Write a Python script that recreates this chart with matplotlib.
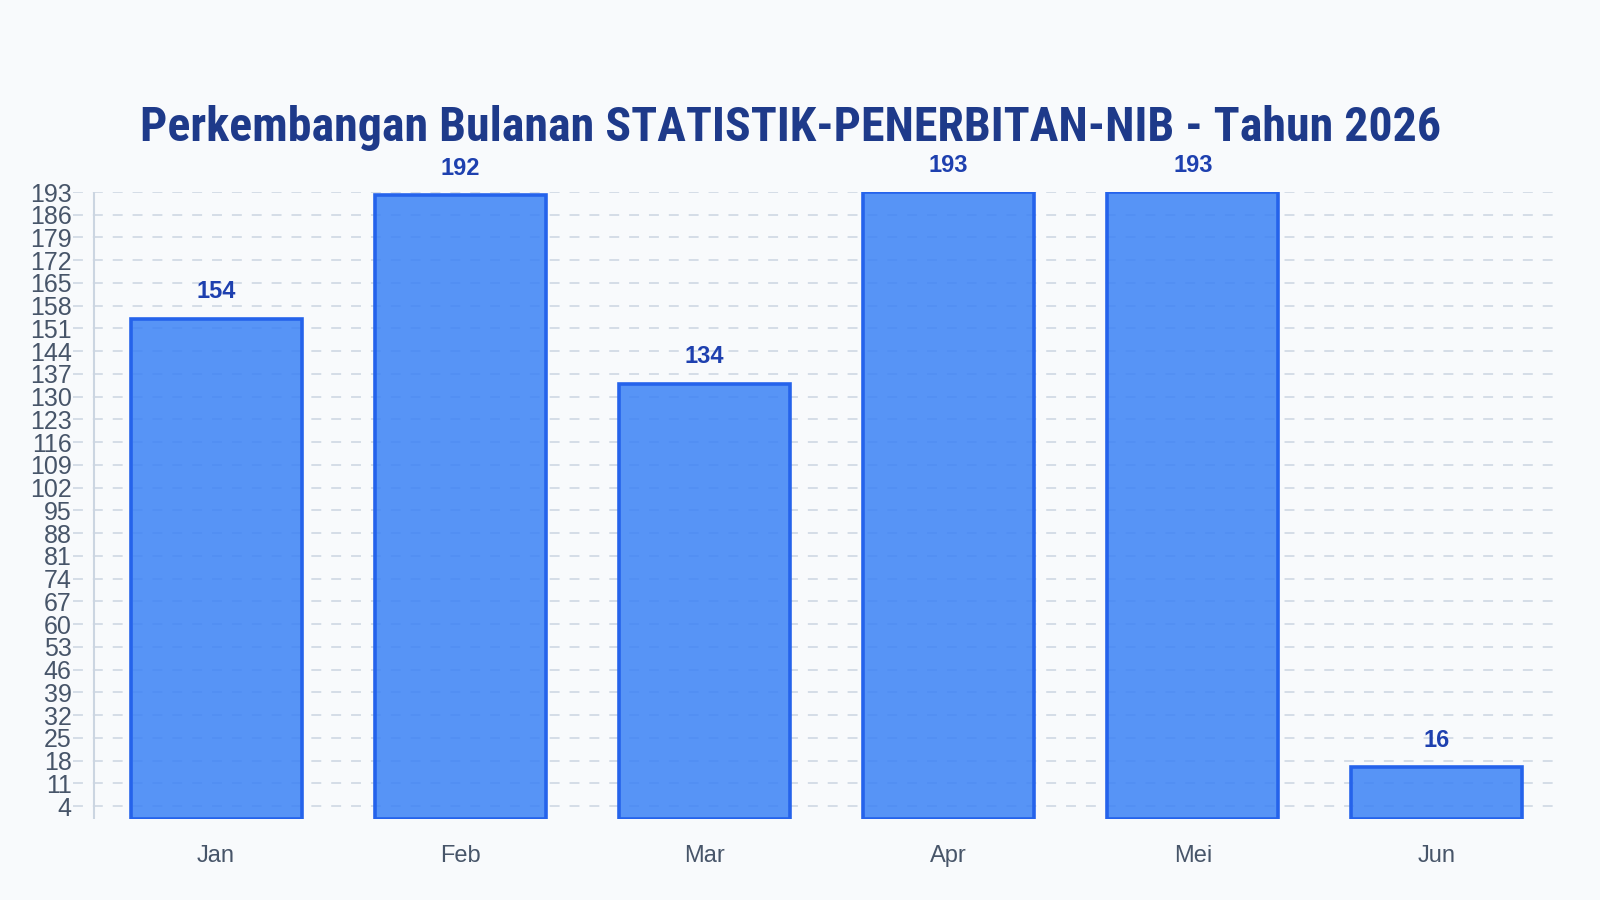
import matplotlib.pyplot as plt
import numpy as np

# data
months = ['Jan', 'Feb', 'Mar', 'Apr', 'Mei', 'Jun']
counts = [154, 192, 134, 193, 193, 16]
y_ticks = list(range(4, 194, 7))
title = 'Perkembangan Bulanan STATISTIK-PENERBITAN-NIB - Tahun 2026'

bg = '#f8fafc'
grid_col = '#cbd5e1'
W, H = 1600, 900

fig = plt.figure(figsize=(16, 9), dpi=100, facecolor=bg)
# axes box in pixels: grid starts a bit left of the axis line
left, right, top, bottom = 73, 1559, 192, 819
ax = fig.add_axes([left / W, 1 - bottom / H, (right - left) / W, (bottom - top) / H])
ax.set_facecolor(bg)

x = np.arange(len(months))
ax.set_xlim(-0.5 - 21 / 244, len(months) - 0.5)
ax.set_ylim(0, 193)

ax.bar(x, counts, width=0.70, color='#3b82f6', alpha=0.85, edgecolor='none', zorder=3)
ax.bar(x, counts, width=0.70, color='none', edgecolor='#2563eb', linewidth=2.6, zorder=4)

for xi, v in zip(x, counts):
    ax.annotate(str(v), (xi, v), xytext=(0, 11), textcoords='offset points',
                ha='center', va='bottom', fontsize=17, fontweight='bold',
                color='#1e40af', family='Liberation Sans')

ax.set_yticks(y_ticks)
ax.set_xticks(x)
ax.set_xticklabels(months)
ax.yaxis.grid(True, linestyle=(0, (6.5, 6.5)), color=grid_col, linewidth=1.1, zorder=1)
ax.set_axisbelow(True)

for s in ax.spines.values():
    s.set_visible(False)
ax.axvline(-0.5, color=grid_col, linewidth=1.5, zorder=2)

ax.tick_params(axis='y', length=0, labelsize=18, labelcolor='#475569', pad=1)
ax.tick_params(axis='x', length=0, labelsize=17, labelcolor='#475569', pad=19)
for lab in ax.get_xticklabels() + ax.get_yticklabels():
    lab.set_family('Liberation Sans')

fig.text(0.494, 1 - 128 / H, title, ha='center', va='center', fontsize=34.5,
         fontweight='bold', color='#1e3a8a',
         family=['Roboto Condensed', 'Liberation Sans Narrow', 'Roboto'])

fig.savefig('out.png', dpi=100, facecolor=bg)
